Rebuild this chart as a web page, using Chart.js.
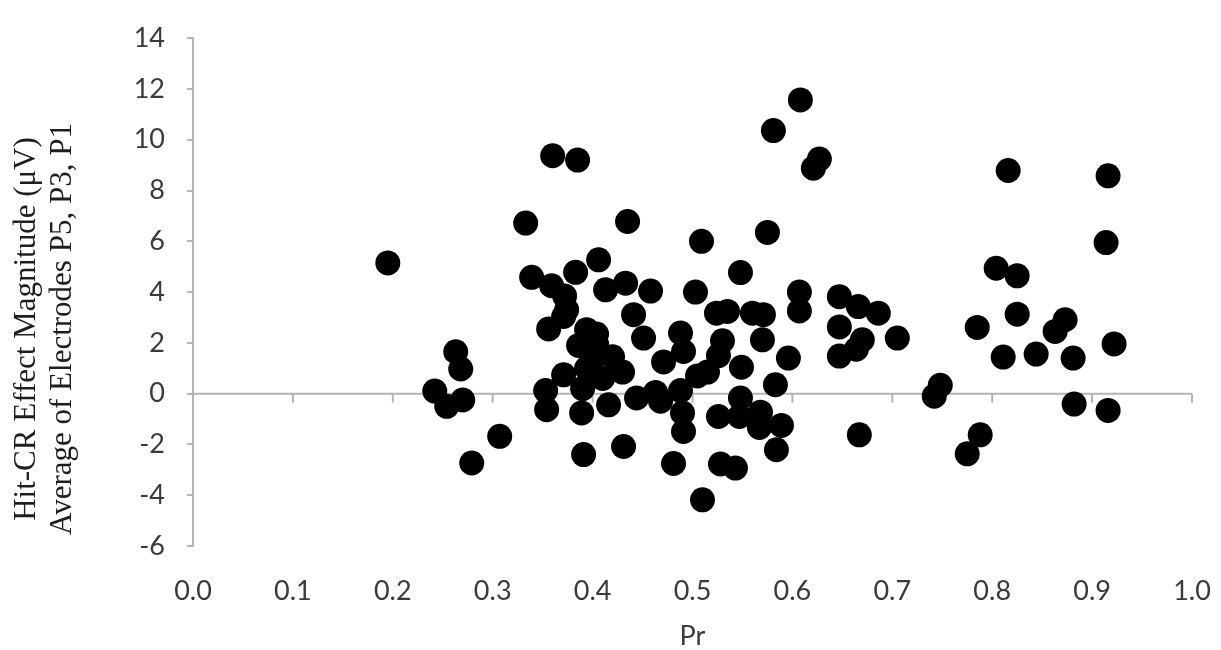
<!DOCTYPE html>
<html>
<head>
<meta charset="utf-8">
<script src="https://cdn.jsdelivr.net/npm/chart.js@4"></script>
<style>
  html, body { margin: 0; padding: 0; background: #fff; }
  #wrap { width: 1221px; height: 650px; }
</style>
</head>
<body>
<div id="wrap"><canvas id="myChart" width="1221" height="650"></canvas></div>
<script>
// Pr values (x) and Hit-CR effect magnitude (y)
const prValues = [
  0.195, 0.242, 0.254, 0.263, 0.268, 0.27, 0.279, 0.307, 0.333, 0.339,
  0.359, 0.372, 0.383, 0.36, 0.385, 0.356, 0.371, 0.394, 0.386, 0.404,
  0.371, 0.353, 0.354, 0.389, 0.391, 0.39, 0.394, 0.406, 0.413, 0.433,
  0.435, 0.42, 0.43, 0.416, 0.431, 0.441, 0.451, 0.458, 0.444, 0.468,
  0.471, 0.481, 0.488, 0.491, 0.49, 0.491, 0.488, 0.503, 0.509, 0.51,
  0.524, 0.535, 0.53, 0.526, 0.515, 0.526, 0.528, 0.543, 0.548, 0.549,
  0.548, 0.56, 0.571, 0.57, 0.568, 0.567, 0.589, 0.584, 0.583, 0.596,
  0.575, 0.581, 0.608, 0.627, 0.621, 0.607, 0.607, 0.647, 0.666, 0.686,
  0.647, 0.67, 0.647, 0.664, 0.705, 0.667, 0.748, 0.742, 0.775, 0.816,
  0.916, 0.914, 0.804, 0.825, 0.825, 0.785, 0.873, 0.863, 0.922, 0.811,
  0.844, 0.881, 0.882, 0.916, 0.788, 0.463, 0.505, 0.547, 0.374, 0.404,
  0.4, 0.41
];
const effectValues = [
  5.15, 0.1, -0.5, 1.65, 0.97, -0.25, -2.73, -1.68, 6.72, 4.58,
  4.25, 3.85, 4.78, 9.37, 9.2, 2.55, 3.04, 2.52, 1.9, 2.35,
  0.74, 0.12, -0.63, -0.76, -2.4, 0.2, 1.0, 5.27, 4.09, 4.35,
  6.78, 1.45, 0.85, -0.44, -2.08, 3.11, 2.19, 4.04, -0.17, -0.3,
  1.25, -2.75, 2.39, 1.66, -0.76, -1.49, 0.12, 4.0, 6.0, -4.18,
  3.17, 3.24, 2.08, 1.5, 0.85, -0.9, -2.77, -2.93, 4.77, 1.04,
  -0.17, 3.17, 3.11, 2.12, -0.73, -1.33, -1.25, -2.21, 0.35, 1.4,
  6.35, 10.36, 11.57, 9.24, 8.88, 4.0, 3.26, 3.82, 3.43, 3.17,
  2.63, 2.12, 1.48, 1.75, 2.19, -1.62, 0.33, -0.1, -2.37, 8.79,
  8.58, 5.95, 4.94, 4.64, 3.13, 2.61, 2.91, 2.45, 1.96, 1.44,
  1.56, 1.4, -0.41, -0.66, -1.62, 0.05, 0.7, -0.9, 3.3, 1.95,
  1.35, 0.6
];
const xTicks = [0, 0.1, 0.2, 0.3, 0.4, 0.5, 0.6, 0.7, 0.8, 0.9, 1.0];
const yTicks = [-6, -4, -2, 0, 2, 4, 6, 8, 10, 12, 14];
const yTitleLines = ["Hit-CR Effect Magnitude (\u03bcV)", "Average of Electrodes P5, P3, P1"];
const xTitle = "Pr";

const axisGray = "#b4b4b4";
const ctx = document.getElementById("myChart").getContext("2d");

const points = prValues.map((x, i) => ({ x: x, y: effectValues[i] }));

// horizontal axis line drawn at y = 0 with small ticks pointing down
const zeroAxis = {
  id: "zeroAxis",
  beforeDatasetsDraw(chart) {
    const xs = chart.scales.x;
    const ys = chart.scales.y;
    const c = chart.ctx;
    const py = ys.getPixelForValue(0);
    c.save();
    c.strokeStyle = axisGray;
    c.lineWidth = 2;
    c.beginPath();
    c.moveTo(xs.left, py);
    c.lineTo(xs.right, py);
    xs.ticks.forEach((t) => {
      const px = xs.getPixelForValue(t.value);
      c.moveTo(px, py);
      c.lineTo(px, py + 9);
    });
    c.stroke();
    c.restore();
  },
};

// two line rotated title on the left
const yTitle = {
  id: "yTitle",
  afterDraw(chart) {
    const c = chart.ctx;
    c.save();
    c.translate(45, 329);
    c.rotate(-Math.PI / 2);
    c.fillStyle = "#1e1e1e";
    c.font = "31px 'Liberation Serif'";
    c.textAlign = "center";
    c.textBaseline = "middle";
    c.fillText(yTitleLines[0], 0, -18);
    c.fillText(yTitleLines[1], 0, 18);
    c.restore();
  },
};

new Chart(ctx, {
  type: "scatter",
  data: {
    datasets: [
      {
        label: "Hit-CR",
        data: points,
        backgroundColor: "#000",
        borderWidth: 0,
        pointRadius: 12.5,
        pointHoverRadius: 12.5,
      },
    ],
  },
  options: {
    responsive: false,
    animation: false,
    layout: { padding: { left: 0, right: 29, top: 38, bottom: 0 } },
    plugins: {
      legend: { display: false },
      tooltip: { enabled: false },
    },
    scales: {
      x: {
        type: "linear",
        min: 0,
        max: 1,
        afterBuildTicks: (scale) => {
          scale.ticks = xTicks.map((v) => ({ value: v }));
        },
        afterFit: (scale) => {
          scale.height = 104;
          scale.paddingLeft = 0;
          scale.paddingRight = 0;
        },
        grid: { display: false, drawTicks: false },
        border: { display: false },
        ticks: {
          padding: 29,
          color: "#3a3a3a",
          font: { family: "Lato", size: 27 },
          callback: (v) => Number(v).toFixed(1),
        },
        title: {
          display: true,
          text: xTitle,
          color: "#3a3a3a",
          font: { family: "Lato", size: 27, lineHeight: 1 },
          padding: { top: 0, bottom: 0 },
        },
      },
      y: {
        type: "linear",
        min: -6,
        max: 14,
        afterBuildTicks: (scale) => {
          scale.ticks = yTicks.map((v) => ({ value: v }));
        },
        afterFit: (scale) => {
          scale.width = 193;
        },
        grid: {
          drawOnChartArea: false,
          drawTicks: true,
          tickLength: 6,
          color: axisGray,
          lineWidth: 2,
        },
        border: { display: true, color: axisGray, width: 2 },
        ticks: {
          padding: 22,
          color: "#3a3a3a",
          font: { family: "Lato", size: 27 },
        },
      },
    },
  },
  plugins: [zeroAxis, yTitle],
});
</script>
</body>
</html>
